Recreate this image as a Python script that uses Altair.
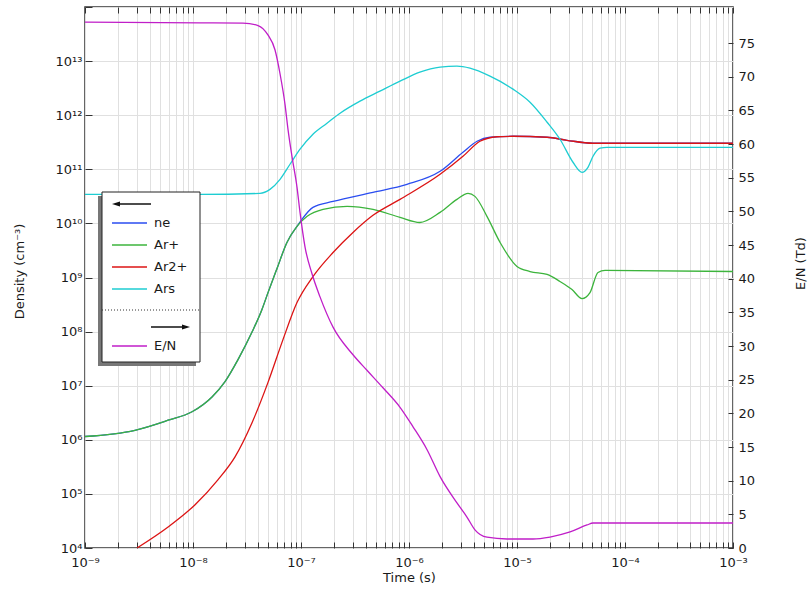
import altair as alt
import pandas as pd

# ---------------- data ----------------
series_names = ["ne", "Ar+", "Ar2+", "Ars"]
series_colors = ["#2a4df0", "#3cb43c", "#dc1414", "#1ecdd2"]
en_color = "#c01ec8"

early_t = [1e-9, 2.90e-9, 5.88e-9, 9.8e-9, 1.50e-8, 1.98e-8, 2.61e-8, 3.52e-8,
           4.36e-8, 4.94e-8, 6.0e-8, 7.41e-8, 9.18e-8]
early_v = [1.15e6, 1.5e6, 2.3e6, 3.3e6, 6.2e6, 1.19e7, 3.03e7, 9.8e7,
           2.6e8, 5.2e8, 1.47e9, 4.45e9, 8.80e9]

ne_t = early_t + [1.02e-7, 1.29e-7, 1.98e-7, 4.64e-7, 9.57e-7, 1.94e-6, 3.16e-6,
                  4.27e-6, 5.62e-6, 9.18e-6, 1.90e-5, 2.90e-5, 5.06e-5, 1e-3]
ne_v = early_v + [1.19e10, 1.98e10, 2.55e10, 3.75e10, 5.27e10, 9.18e10, 2.07e11,
                  3.30e11, 3.91e11, 4.08e11, 3.91e11, 3.44e11, 3.03e11, 3.03e11]

arp_t = early_t + [1.14e-7, 1.60e-7, 2.67e-7, 4.64e-7, 8.26e-7, 1.26e-6, 1.94e-6,
                   2.78e-6, 3.52e-6, 4.08e-6, 5.27e-6, 6.97e-6, 1.0e-5, 1.32e-5,
                   1.90e-5, 2.50e-5, 3.23e-5, 4.00e-5, 4.74e-5, 5.62e-5, 6.53e-5, 1e-3]
arp_v = early_v + [1.35e10, 1.82e10, 2.07e10, 1.82e10, 1.29e10, 1.04e10, 1.60e10,
                   2.78e10, 3.59e10, 3.16e10, 1.35e10, 4.45e9, 1.60e9, 1.29e9,
                   1.14e9, 8.44e8, 6.0e8, 4.08e8, 5.27e8, 1.24e9, 1.35e9, 1.29e9]

ar2p_t = [3.03e-9, 5.88e-9, 1.04e-8, 1.70e-8, 2.45e-8, 3.52e-8, 4.94e-8, 6.81e-8,
          9.18e-8, 1.29e-7, 1.98e-7, 3.03e-7, 4.64e-7, 8.26e-7, 1.94e-6, 3.16e-6,
          4.54e-6, 6.53e-6, 9.18e-6, 1.90e-5, 2.90e-5, 5.06e-5, 1e-3]
ar2p_v = [1e4, 2.45e4, 6.25e4, 1.82e5, 4.84e5, 2.07e6, 1.14e7, 7.11e7,
          3.44e8, 1.04e9, 2.90e9, 6.81e9, 1.41e10, 2.78e10, 8.07e10, 1.74e11,
          3.30e11, 4.0e11, 4.08e11, 3.91e11, 3.44e11, 3.03e11, 3.03e11]

ars_t = [1e-9, 1.16e-8, 4.17e-8, 5.16e-8, 6.40e-8, 7.91e-8, 9.80e-8, 1.29e-7,
         1.74e-7, 2.30e-7, 3.52e-7, 5.38e-7, 8.26e-7, 1.26e-6, 1.94e-6, 2.78e-6,
         3.67e-6, 5.62e-6, 9.18e-6, 1.32e-5, 1.90e-5, 2.50e-5, 3.30e-5, 4.00e-5,
         4.54e-5, 5.06e-5, 5.88e-5, 6.81e-5, 1e-3]
ars_v = [3.44e10, 3.44e10, 3.59e10, 4.26e10, 6.53e10, 1.24e11, 2.35e11, 4.45e11,
         7.11e11, 1.09e12, 1.82e12, 2.78e12, 4.26e12, 6.25e12, 7.74e12, 8.07e12,
         7.41e12, 5.27e12, 3.03e12, 1.74e12, 7.41e11, 3.59e11, 1.35e11, 8.80e10,
         1.09e11, 1.74e11, 2.45e11, 2.55e11, 2.55e11]

en_t = [1e-9, 1.16e-8, 2.90e-8, 4.00e-8, 4.94e-8, 5.74e-8, 6.40e-8, 7.11e-8,
        7.59e-8, 8.26e-8, 9.18e-8, 9.80e-8, 1.09e-7, 1.26e-7, 1.50e-7, 1.98e-7,
        3.03e-7, 4.08e-7, 5.74e-7, 8.26e-7, 1.09e-6, 1.47e-6, 1.94e-6, 2.78e-6,
        3.44e-6, 4.08e-6, 5.27e-6, 8.07e-6, 1.41e-5, 2.02e-5, 3.10e-5, 4.45e-5,
        5.06e-5, 1.70e-4, 1e-3]
en_v = [78.1, 78.0, 77.95, 77.6, 76.2, 74.0, 70.4, 65.9,
        62.1, 58.1, 53.6, 49.8, 44.7, 40.8, 37.3, 32.8,
        28.7, 26.4, 23.8, 20.9, 18.0, 14.6, 10.6, 6.7,
        4.6, 2.7, 1.6, 1.34, 1.34, 1.63, 2.38, 3.42,
        3.71, 3.71, 3.71]

x_exps = list(range(-9, -2))
y_exps = list(range(4, 15))
y_label_exps = list(range(4, 14))
en_ticks = list(range(0, 80, 5))

# ---------------- tables ----------------
rows = []
for name, ts, vs in zip(series_names, [ne_t, arp_t, ar2p_t, ars_t],
                        [ne_v, arp_v, ar2p_v, ars_v]):
    for t, v in zip(ts, vs):
        rows.append({"t": t, "value": v, "series": name})
density = pd.DataFrame(rows)
en = pd.DataFrame({"t": en_t, "EN": en_v})
dummy = pd.DataFrame({"k": [0]})

SUP = str.maketrans("-0123456789", "⁻⁰¹²³⁴⁵⁶⁷⁸⁹")


def sup(e):
    return "10" + str(e).translate(SUP)


def decade_expr(exps):
    e = "round(log(datum.value)/LN10)"
    parts = "".join(f"{e} == {k} ? '{sup(k)}' : " for k in exps) + "''"
    return f"abs(log(datum.value)/LN10 - {e}) < 0.01 ? ({parts}) : ''"


x_vals = [float(f"{m}e{e}") for e in range(-9, -3) for m in range(1, 10)] + [1e-3]
y_vals = [float(f"1e{e}") for e in y_exps]

xscale = alt.Scale(type="log", domain=[1e-9, 1e-3], nice=False)
yscale = alt.Scale(type="log", domain=[1e4, 1e14], nice=False)
enscale = alt.Scale(domain=[0, 80.35], nice=False, zero=False)

GRID = "#e0e0e0"
TICK = "#333333"
FONT = "DejaVu Sans"
INTERP = "monotone"

lines = alt.Chart(density).mark_line(strokeWidth=1.3, interpolate=INTERP, clip=True).encode(
    x=alt.X("t:Q", scale=xscale, axis=alt.Axis(
        orient="bottom", values=x_vals, labelExpr=decade_expr(x_exps), grid=True,
        gridColor=GRID, ticks=False, domain=False, labelPadding=8, labelFlush=False,
        labelOverlap=False, title="Time (s)", titleX=324, titleY=29,
        titleBaseline="middle", titleAlign="center")),
    y=alt.Y("value:Q", scale=yscale, axis=alt.Axis(
        orient="left", values=y_vals, labelExpr=decade_expr(y_label_exps), grid=True,
        gridColor=GRID, ticks=False, domain=False, labelPadding=3, labelFlush=False,
        labelOverlap=False, title="Density (cm⁻³)", titleX=-66, titleY=264,
        titleAngle=270, titleAlign="center", titleBaseline="middle")),
    color=alt.Color("series:N", scale=alt.Scale(domain=series_names, range=series_colors),
                    legend=None),
)

en_line = alt.Chart(en).mark_line(strokeWidth=1.3, interpolate=INTERP, clip=True,
                                  color=en_color).encode(
    x=alt.X("t:Q", scale=xscale, axis=None),
    y=alt.Y("EN:Q", scale=enscale, axis=alt.Axis(
        orient="right", values=en_ticks, grid=False, ticks=False, domain=False,
        labelPadding=5, labelFlush=False, labelOverlap=False, title="E/N (Td)",
        titleX=67, titleY=256, titleAngle=270, titleAlign="center",
        titleBaseline="middle")),
)

ticks_lb = alt.Chart(density).mark_point(opacity=0).encode(
    x=alt.X("t:Q", scale=xscale, axis=alt.Axis(
        orient="bottom", offset=-6, tickSize=6, tickColor=TICK, values=x_vals,
        labels=False, domain=False, grid=False, title="")),
    y=alt.Y("value:Q", scale=yscale, axis=alt.Axis(
        orient="left", offset=-7, tickSize=7, tickColor=TICK, values=y_vals,
        labels=False, domain=False, grid=False, title="")),
)

ticks_tr = alt.Chart(en).mark_point(opacity=0).encode(
    x=alt.X("t:Q", scale=xscale, axis=alt.Axis(
        orient="top", offset=-6, tickSize=6, tickColor=TICK, values=x_vals,
        labels=False, domain=False, grid=False, title="")),
    y=alt.Y("EN:Q", scale=enscale, axis=alt.Axis(
        orient="right", offset=-5, tickSize=5, tickColor=TICK, values=en_ticks,
        labels=False, domain=False, grid=False, title="")),
)

# ---------------- hand-made legend box ----------------
legend_layers = [
    alt.Chart(dummy).mark_rect(color="#777777").encode(
        x=alt.value(13), x2=alt.value(111), y=alt.value(189), y2=alt.value(359)),
    alt.Chart(dummy).mark_rect(fill="white", stroke="#222222", strokeWidth=1).encode(
        x=alt.value(17), x2=alt.value(115), y=alt.value(185), y2=alt.value(355)),
    alt.Chart(dummy).mark_rule(color="#333333", strokeDash=[1, 2], strokeWidth=1).encode(
        x=alt.value(17), x2=alt.value(115), y=alt.value(303)),
    # left arrow (density -> left axis)
    alt.Chart(dummy).mark_rule(color="#111111", strokeWidth=1.5).encode(
        x=alt.value(30), x2=alt.value(66), y=alt.value(197)),
    alt.Chart(dummy).mark_point(shape="M-1,0L1,-0.6L1,0.6Z", filled=True, size=64,
                                color="#111111", opacity=1).encode(
        x=alt.value(31), y=alt.value(197)),
    # right arrow (E/N -> right axis)
    alt.Chart(dummy).mark_rule(color="#111111", strokeWidth=1.5).encode(
        x=alt.value(66), x2=alt.value(102), y=alt.value(320)),
    alt.Chart(dummy).mark_point(shape="M1,0L-1,-0.6L-1,0.6Z", filled=True, size=64,
                                color="#111111", opacity=1).encode(
        x=alt.value(101), y=alt.value(320)),
]
entry_y = [216, 238, 260, 282]
for name, col, yy in zip(series_names + ["E/N"], series_colors + [en_color], entry_y + [339]):
    legend_layers.append(alt.Chart(dummy).mark_rule(color=col, strokeWidth=1.5).encode(
        x=alt.value(27), x2=alt.value(62), y=alt.value(yy)))
    legend_layers.append(alt.Chart(dummy).mark_text(
        text=name, align="left", baseline="middle", font=FONT, fontSize=13,
        color="#1a1a1a").encode(x=alt.value(69), y=alt.value(yy)))

chart = alt.layer(lines, en_line, ticks_lb, ticks_tr, *legend_layers).resolve_scale(
    y="independent"
).resolve_axis(
    x="independent", y="independent"
).properties(
    width=648, height=541,
    padding={"left": 85, "top": 7, "right": 79, "bottom": 41},
    autosize=alt.AutoSizeParams(type="none"),
).configure_view(
    stroke="#333333", strokeWidth=1.5
).configure_axis(
    labelFont=FONT, titleFont=FONT, labelFontSize=13, titleFontSize=13,
    titleFontWeight="normal", labelColor="#1a1a1a", titleColor="#1a1a1a",
)

chart.save("out.html", embed_options={"renderer": "svg", "actions": False})
